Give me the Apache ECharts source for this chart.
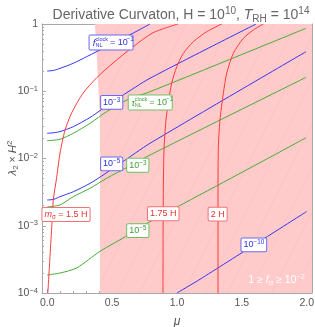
<!DOCTYPE html>
<html>
<head>
<meta charset="utf-8">
<script src="https://cdn.jsdelivr.net/npm/echarts@6.0.0/dist/echarts.min.js"></script>
<style>
html,body{margin:0;padding:0;background:#fff;}
#chart{width:315px;height:327px;}
</style>
</head>
<body>
<div id="chart"></div>
<script>
// ---------------- data ----------------
const xTicks = [0, 0.5, 1.0, 1.5, 2.0];
const xMinorTicks = [0.1,0.2,0.3,0.4,0.6,0.7,0.8,0.9,1.1,1.2,1.3,1.4,1.6,1.7,1.8,1.9];
const yTicks = [1e-4, 1e-3, 1e-2, 1e-1, 1];
const yMinorTicks = [2e-4,3e-4,4e-4,5e-4,6e-4,7e-4,8e-4,9e-4,
                     2e-3,3e-3,4e-3,5e-3,6e-3,7e-3,8e-3,9e-3,
                     2e-2,3e-2,4e-2,5e-2,6e-2,7e-2,8e-2,9e-2,
                     2e-1,3e-1,4e-1,5e-1,6e-1,7e-1,8e-1,9e-1];

// f_NL^clock contours (blue)  [mu, lambda2*H^2]
const fNL_1e1  = [[0,0.1995],[0.05,0.2042],[0.099,0.2188],[0.201,0.2606],[0.304,0.3266],[0.663,0.7345],[0.792,1.0]];
const fNL_1e3  = [[0,0.02371],[0.05,0.02415],[0.099,0.02512],[0.201,0.02972],[0.33,0.04074],[0.42,0.0537],[0.574,0.08511],[0.792,0.156],[1.609,1.0]];
const fNL_1e5  = [[0,0.002415],[0.05,0.002466],[0.099,0.002704],[0.201,0.003206],[0.33,0.004266],[0.42,0.005495],[0.574,0.00871],[0.792,0.01683],[1.994,0.3873]];
const fNL_1e10 = [[0.999,1.0e-4],[1.177,1.6e-4],[1.999,1.629e-3]];
// tau_NL^clock contours (green)
const tNL_1e1 = [[0,0.01841],[0.05,0.01871],[0.099,0.01932],[0.201,0.02371],[0.33,0.03334],[0.458,0.04966],[0.625,0.07586],[0.792,0.0984],[1.994,0.863]];
const tNL_1e3 = [[0,0.001901],[0.099,0.002042],[0.201,0.002704],[0.33,0.003606],[0.458,0.005082],[0.625,0.007551],[0.792,0.01127],[1.994,0.1611]];
const tNL_1e5 = [[0,1.854e-4],[0.099,1.982e-4],[0.227,2.355e-4],[0.407,4.169e-4],[0.625,7.278e-4],[0.792,1.148e-3],[1.678,9.506e-3],[1.994,0.02037]];
// m_sigma contours (red)
const m150 = [[0.005,1e-4],[0.02,3.09e-4],[0.035,9.55e-4],[0.047,2.399e-3],[0.073,5.248e-3],[0.099,0.01202],[0.137,0.0263],[0.189,0.04786],[0.276,0.09333],[0.381,0.1585],[0.507,0.263],[0.661,0.4571],[0.815,0.7413],[1.008,1.0]];
const m175 = [[0.892,1e-4],[0.894,2.399e-3],[0.9,0.01349],[0.915,0.03715],[0.933,0.06761],[0.959,0.1318],[0.998,0.2317],[1.049,0.3664],[1.126,0.5458],[1.229,0.7691],[1.344,1.0]];
const m200 = [[1.316,1e-4],[1.316,2.399e-3],[1.318,0.01349],[1.331,0.03715],[1.357,0.09333],[1.383,0.1849],[1.434,0.3664],[1.511,0.6124],[1.588,0.8147],[1.665,1.0]];
// left edge of the shaded region 1 >= f_sigma >= 1e-2
const fSigmaEdge = [[0.368,1.0],[0.381,0.3664],[0.394,0.1169],[0.407,0.03715],[0.407,1e-4]];

// annotation anchors [mu, lambda]
const labelAnchors = [[0.492,0.531],[0.497,0.0681],[0.794,0.0681],[0.497,0.00832],[0.698,0.00794],
                      [0.145,0.001469],[0.894,0.001507],[1.313,0.001486],[0.698,0.000845],[1.592,0.000518],[1.767,1.56e-4]];

// ---------------- styles ----------------
const FONT = '"Liberation Sans", Arial, sans-serif';
const XMIN = -0.04, XMAX = 2.04, YMIN = 1e-4, YMAX = 1;
const COL = {
  blue:  {line:'#3434f2', text:'#2f2fd8', border:'#6868f0'},
  green: {line:'#45ad35', text:'#3c9e30', border:'#72c064'},
  red:   {line:'#ff3a3a', text:'#e83232', border:'#f07272'}
};
const labelSpecs = [
  {k:'stack', c:'blue', main:'f', up:'clock', dn:'NL', tail:'= 10', exp:'\u22121', w:44, h:15},
  {k:'rich', c:'blue', text:'10{s|\u22123}'},
  {k:'stack', c:'green', main:'\u03c4', up:'clock', dn:'NL', tail:'= 10', exp:'\u22121', w:44, h:15},
  {k:'rich', c:'blue', text:'10{s|\u22125}'},
  {k:'rich', c:'green', text:'10{s|\u22123}'},
  {k:'rich', c:'red', text:'{i|m}{b|\u03c3}{n| = 1.5 H}'},
  {k:'rich', c:'red', text:'1.75 H'},
  {k:'rich', c:'red', text:'2 H'},
  {k:'rich', c:'green', text:'10{s|\u22125}'},
  {k:'rich', c:'blue', text:'10{s|\u221210}'},
  {k:'white', text:'1 \u2265 {i|f}{b|\u03c3} \u2265 10{s|\u22122}'}
];

function richFor(fill, base) {
  return {
    s: {fontSize: base*0.7, fill: fill, fontFamily: FONT, verticalAlign:'top', lineHeight: base*0.65},
    b: {fontSize: base*0.7, fill: fill, fontFamily: FONT, verticalAlign:'bottom', lineHeight: base*0.65},
    i: {fontSize: base, fill: fill, fontFamily: FONT, fontStyle:'italic', lineHeight: base*1.2},
    n: {fontSize: base, fill: fill, fontFamily: FONT, lineHeight: base*1.2}
  };
}

function hatchPattern() {
  const c = document.createElement('canvas');
  c.width = 22; c.height = 44;
  const g = c.getContext('2d');
  g.fillStyle = '#ffcaca';
  g.fillRect(0, 0, 22, 44);
  g.strokeStyle = 'rgba(240,170,170,0.3)';
  g.lineWidth = 0.6;
  g.beginPath();
  g.moveTo(0, 44); g.lineTo(22, 0);
  g.moveTo(-11, 22); g.lineTo(11, -22);
  g.moveTo(11, 66); g.lineTo(33, 22);
  g.stroke();
  return c;
}
const pattern = {image: hatchPattern(), repeat: 'repeat'};

function renderRegion(params, api) {
  if (params.dataIndex !== 0) return null;
  const pts = fSigmaEdge.map(d => api.coord(d));
  pts.push(api.coord([XMAX, YMIN]), api.coord([XMAX, YMAX]));
  return {type:'polygon', silent:true, shape:{points:pts}, style:{fill: pattern}};
}

function renderLabel(params, api) {
  const s = labelSpecs[params.dataIndex];
  const p = api.coord([api.value(0), api.value(1)]);
  if (s.k === 'white') {
    return {type:'text', x:p[0], y:p[1], style:{text:s.text, rich:richFor('#ffffff', 10.5),
      fill:'#fff', fontSize:10.5, fontFamily:FONT, lineHeight:12.6, align:'center', verticalAlign:'middle'}};
  }
  const c = COL[s.c];
  if (s.k === 'rich') {
    return {type:'text', x:p[0], y:p[1], z2:10, style:{text:s.text, rich:richFor(c.text, 9),
      fill:c.text, fontSize:9, fontFamily:FONT, lineHeight:10.8, align:'center', verticalAlign:'middle',
      backgroundColor:'#fff', borderColor:c.border, borderWidth:1, borderRadius:1, padding:[1,2,1,2]}};
  }
  // stacked super/sub label
  const x0 = p[0] - s.w/2;
  return {type:'group', children:[
    {type:'rect', shape:{x:x0, y:p[1]-s.h/2, width:s.w, height:s.h, r:1},
      style:{fill:'#fff', stroke:c.border, lineWidth:1}},
    {type:'text', x:x0+5, y:p[1]+0.5, style:{text:s.main, fill:c.text, fontSize:9.5, fontStyle:'italic', fontFamily:FONT, align:'center', verticalAlign:'middle'}},
    {type:'text', x:x0+6.5, y:p[1]-3.3, style:{text:s.up, fill:c.text, fontSize:5.5, fontFamily:FONT, align:'left', verticalAlign:'middle'}},
    {type:'text', x:x0+6.5, y:p[1]+2.8, style:{text:s.dn, fill:c.text, fontSize:5.5, fontFamily:FONT, align:'left', verticalAlign:'middle'}},
    {type:'text', x:x0+21, y:p[1]+0.5, style:{text:s.tail, fill:c.text, fontSize:9, fontFamily:FONT, align:'left', verticalAlign:'middle'}},
    {type:'text', x:x0+37.5, y:p[1]-2.8, style:{text:s.exp, fill:c.text, fontSize:6.3, fontFamily:FONT, align:'left', verticalAlign:'middle'}}
  ]};
}

function lineSeries(data, color) {
  return {type:'line', data:data, xAxisIndex:0, yAxisIndex:0, showSymbol:false, symbol:'none',
    smooth:0.25, silent:true, clip:true, z:3,
    lineStyle:{color:color, width:1}};
}

const axisGray = '#a8a8a8';
const labelGray = '#555';
const tickRich = {
  n: {fontSize:10.5, fill:labelGray, color:labelGray, fontFamily:FONT, lineHeight:13},
  s: {fontSize:7.5, fill:labelGray, color:labelGray, fontFamily:FONT, verticalAlign:'top', lineHeight:7}
};

const chart = echarts.init(document.getElementById('chart'), null, {renderer:'canvas'});
chart.setOption({
  animation:false,
  backgroundColor:'#fff',
  title:{
    text:'Derivative Curvaton, H = 10{s|10}, {i|T}{b|RH} = 10{s|14}',
    left:176, top:1, textAlign:'center',
    textStyle:{fontSize:14, fontWeight:'normal', color:'#666', fontFamily:FONT, lineHeight:18,
      rich:{
        s:{fontSize:10, color:'#666', fontFamily:FONT, verticalAlign:'top', lineHeight:10},
        b:{fontSize:10, color:'#666', fontFamily:FONT, verticalAlign:'bottom', lineHeight:10},
        i:{fontSize:14, color:'#666', fontFamily:FONT, fontStyle:'italic', lineHeight:18}
      }}
  },
  graphic:[
    {type:'text', x:13, y:158, rotation:Math.PI/2, silent:true,
     style:{text:'{i|\u03bb}{b|2}{n| \u00d7 }{i|H}{s|2}', align:'center', verticalAlign:'middle',
       fill:labelGray, fontSize:11.5, fontFamily:FONT,
       rich:{
         i:{fontSize:11.5, fill:labelGray, fontStyle:'italic', fontFamily:FONT, lineHeight:14},
         n:{fontSize:10.5, fill:labelGray, fontFamily:FONT, lineHeight:14},
         b:{fontSize:8, fill:labelGray, fontFamily:FONT, verticalAlign:'bottom', lineHeight:8},
         s:{fontSize:8, fill:labelGray, fontFamily:FONT, verticalAlign:'top', lineHeight:8}
       }}}
  ],
  grid:{left:42, right:3, top:24, bottom:34, containLabel:false, outerBoundsMode:'none'},
  xAxis:[
    {type:'value', min:XMIN, max:XMAX, position:'bottom',
     axisLine:{show:true, onZero:false, lineStyle:{color:axisGray, width:1}},
     axisTick:{show:true, inside:true, length:4, customValues:xTicks, lineStyle:{color:axisGray}},
     axisLabel:{show:true, customValues:xTicks, formatter:v=>v.toFixed(1), color:labelGray, fontSize:10.5, fontFamily:FONT, margin:5},
     splitLine:{show:false},
     name:'\u03bc', nameLocation:'middle', nameGap:23,
     nameTextStyle:{fontStyle:'italic', fontSize:12, color:labelGray, fontFamily:FONT}},
    {type:'value', min:XMIN, max:XMAX, position:'bottom',
     axisLine:{show:false, onZero:false}, axisTick:{show:true, inside:true, length:2, customValues:xMinorTicks, lineStyle:{color:axisGray}},
     axisLabel:{show:false}, splitLine:{show:false}},
    {type:'value', min:XMIN, max:XMAX, position:'top',
     axisLine:{show:true, onZero:false, lineStyle:{color:axisGray, width:1}},
     axisTick:{show:false}, axisLabel:{show:false}, splitLine:{show:false}}
  ],
  yAxis:[
    {type:'log', logBase:10, min:YMIN, max:YMAX, position:'left',
     axisLine:{show:true, onZero:false, lineStyle:{color:axisGray, width:1}},
     axisTick:{show:true, inside:true, length:4, lineStyle:{color:axisGray}},
     axisLabel:{show:true, margin:4, fontFamily:FONT, color:labelGray, rich:tickRich,
       formatter:function(v){ const e = Math.round(Math.log10(v)); return e === 0 ? '{n|1}' : '{n|10}{s|\u2212' + (-e) + '}'; }},
     splitLine:{show:false}, minorTick:{show:false}},
    {type:'log', logBase:10, min:YMIN, max:YMAX, position:'left',
     axisLine:{show:false, onZero:false}, axisTick:{show:true, inside:true, length:2, customValues:yMinorTicks, lineStyle:{color:axisGray}},
     axisLabel:{show:false}, splitLine:{show:false}},
    {type:'log', logBase:10, min:YMIN, max:YMAX, position:'right',
     axisLine:{show:true, onZero:false, lineStyle:{color:axisGray, width:1}},
     axisTick:{show:false}, axisLabel:{show:false}, splitLine:{show:false}}
  ],
  series:[
    {type:'custom', renderItem:renderRegion, data:fSigmaEdge, xAxisIndex:0, yAxisIndex:0, z:1, silent:true, clip:true},
    lineSeries(fNL_1e1, COL.blue.line),
    lineSeries(fNL_1e3, COL.blue.line),
    lineSeries(fNL_1e5, COL.blue.line),
    lineSeries(fNL_1e10, COL.blue.line),
    lineSeries(tNL_1e1, COL.green.line),
    lineSeries(tNL_1e3, COL.green.line),
    lineSeries(tNL_1e5, COL.green.line),
    lineSeries(m150, COL.red.line),
    lineSeries(m175, COL.red.line),
    lineSeries(m200, COL.red.line),
    {type:'custom', renderItem:renderLabel, data:labelAnchors, xAxisIndex:0, yAxisIndex:0, z:10, silent:true, clip:false}
  ]
});
</script>
</body>
</html>
